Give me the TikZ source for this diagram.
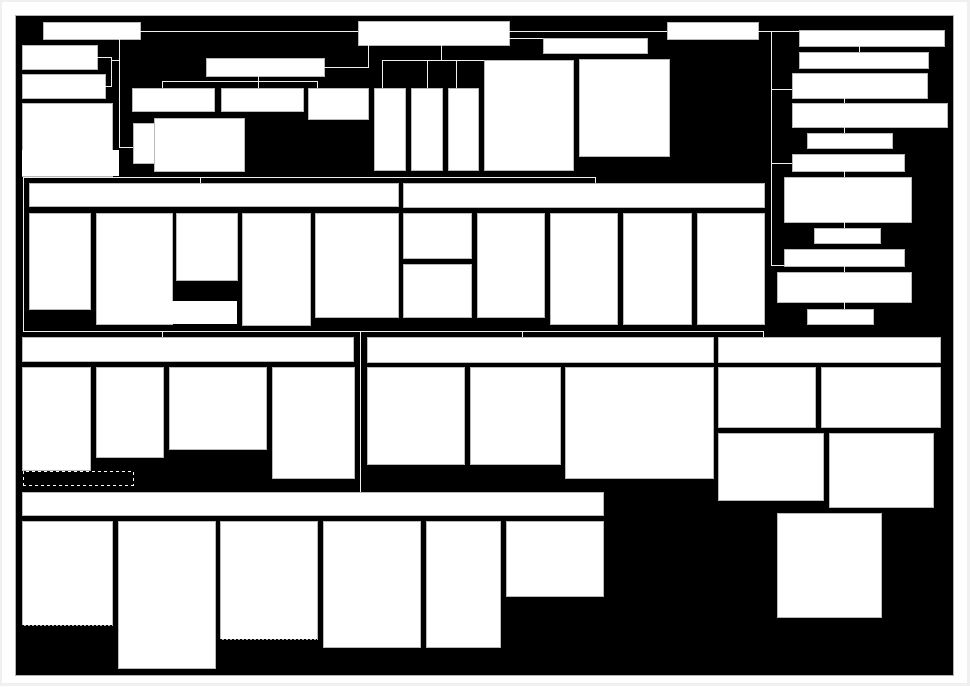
\documentclass[tikz,border=0pt]{standalone}
\usetikzlibrary{calc}
\tikzset{
  box/.style={fill=white, draw=gray!55, line width=0.5pt, inner sep=0pt, outer sep=0pt, rectangle},
  boxnb/.style={fill=white, draw=none, inner sep=0pt, outer sep=0pt, rectangle},
  conn/.style={draw=gray!12, line width=0.9pt},
  dashedge/.style={draw=black, dashed, line width=0.8pt, dash pattern=on 2pt off 2pt},
  lblbox/.style={draw=white, dashed, line width=0.6pt, fill=black, inner sep=0pt, outer sep=0pt, rectangle}
}
\newcommand{\bx}[6][box]{\node[#1, minimum width={(#5-#3)*1pt}, minimum height={(#6-#4)*1pt}] (#2) at ({(#3+#5)/2},{(#4+#6)/2}) {};}
\begin{document}
\begin{tikzpicture}[x=1pt,y=-1pt]
\useasboundingbox (0,0) rectangle (970,686);
\fill[gray!12] (0,0) rectangle (970,686);
\fill[white] (2,2) rectangle (967,683);
\fill[black] (15,15) rectangle (953,675);
\draw[gray!60, line width=0.6pt] (15,15) rectangle (953,675);

% ---------- top left ----------
\bx{A}{43}{22}{140}{39}
\bx{B}{22}{45}{97}{69}
\bx{C}{22}{74}{105}{98}
\bx{D}{22}{103}{112}{176}
\bx[boxnb]{Dx}{22}{150}{119}{176}
\bx{F}{206}{58}{324}{76}
\bx{H}{132}{88}{214}{111}
\bx{I}{221}{88}{303}{111}
\bx{J}{308}{88}{368}{119}
\bx{Ea}{133}{123}{154}{163}
\bx{E}{154}{118}{244}{171}
\bx{G}{358}{21}{509}{45}
\bx{M}{543}{38}{647}{53}
\bx{N}{374}{88}{405}{170}
\bx{O}{411}{88}{442}{170}
\bx{P}{448}{88}{478}{170}
\bx{Q}{484}{60}{573}{170}
\bx{R}{579}{59}{669}{156}
\bx{K}{667}{22}{758}{39}

% ---------- right column ----------
\bx{L}{799}{30}{944}{46}
\bx{Lb}{799}{52}{928}{68}
\bx{S}{792}{73}{927}{98}
\bx{T}{792}{103}{947}{127}
\bx{U}{807}{133}{892}{148}
\bx{V}{792}{154}{904}{171}
\bx{W}{784}{177}{911}{222}
\bx{X}{814}{228}{880}{243}
\bx{Y}{784}{249}{904}{266}
\bx{Z}{777}{272}{911}{302}
\bx{AA}{807}{309}{873}{324}

% ---------- section 1 ----------
\bx{HA}{29}{183}{398}{206}
\bx{HB}{403}{183}{764}{207}
\bx{ba}{29}{213}{90}{309}
\bx{bb}{96}{213}{172}{324}
\bx[boxnb]{bbx}{171}{301}{237}{324}
\bx{bc}{176}{213}{237}{280}
\bx{bd}{242}{213}{310}{325}
\bx{be}{315}{213}{398}{317}
\bx{ca}{403}{213}{471}{258}
\bx{cb}{403}{264}{471}{317}
\bx{cc}{477}{213}{544}{317}
\bx{cd}{550}{213}{617}{324}
\bx{ce}{623}{213}{691}{324}
\bx{cf}{697}{213}{764}{324}

% ---------- section 3 ----------
\bx{HC}{22}{337}{353}{361}
\bx{da}{22}{367}{90}{470}
\bx{db}{96}{367}{163}{457}
\bx{dc}{169}{367}{266}{449}
\bx{dd}{272}{367}{354}{478}
\bx[lblbox]{lbl}{23}{471}{133}{485}
\bx{HD}{367}{337}{713}{362}
\bx{ea}{367}{367}{464}{464}
\bx{eb}{470}{367}{560}{464}
\bx{ec}{565}{367}{713}{478}
\bx{HE}{718}{337}{940}{362}
\bx{fa}{718}{367}{815}{427}
\bx{fb}{821}{367}{940}{427}
\bx{fc}{718}{433}{823}{500}
\bx{fd}{829}{433}{933}{507}
\bx{g}{777}{513}{881}{617}

% ---------- section 4 ----------
\bx{HF}{22}{492}{603}{515}
\bx{ha}{22}{521}{112}{625}
\bx{hb}{118}{521}{215}{668}
\bx{hc}{220}{521}{317}{639}
\bx{hd}{323}{521}{420}{647}
\bx{he}{426}{521}{500}{647}
\bx{hf}{506}{521}{603}{596}
\draw[dashedge] (ha.south west) -- (ha.south east);
\draw[dashedge] (hc.south west) -- (hc.south east);

% ---------- junction coordinates ----------
\coordinate (ltr) at (119,0);
\coordinate (lbc) at (111,0);
\coordinate (rtr) at (771,0);
\coordinate (rx) at (844,0);
\coordinate (gx) at (368,0);
\coordinate (gc) at (441,0);
\coordinate (fc) at (258,0);
\coordinate (top) at (0,31);
\coordinate (gbar) at (0,60);
\coordinate (fbar) at (0,81);
\coordinate (sbar) at (0,177);
\coordinate (bbar) at (0,331);
\coordinate (fl) at (23,0);

% ---------- connectors ----------
% top line
\draw[conn] (A.east |- top) -- (G.west |- top);
\draw[conn] (G.east |- top) -- (K.west |- top);
\draw[conn] (K.east |- top) -- (L.west |- top);
\draw[conn] (G.east |- M.north) -- (M.north west);
% G -> F
\draw[conn] (gx |- G.south) -- (gx |- F.east) -- (F.east);
% G tree
\draw[conn] (gc |- G.south) -- (gc |- gbar);
\draw[conn] (N.north -| 382,0) |- (Q.north west |- gbar);
\draw[conn] (O.north -| 427,0) -- (427,60);
\draw[conn] (P.north -| 456,0) -- (456,60);
% F tree
\draw[conn] (fc |- F.south) -- (fc |- fbar);
\draw[conn] (H.north -| 162,0) |- (317,81) -- (J.north -| 317,0);
\draw[conn] (I.north -| fc) -- (fc |- fbar);
% left trunk
\draw[conn] (ltr |- A.south) -- (ltr |- 0,147) -- (Ea.west |- 0,147);
\draw[conn] (B.east) -| (lbc |- C.east) -- (C.east);
\draw[conn] (lbc |- 0,60) -- (ltr |- 0,60);
% section 1 frame and feeds
\draw[conn] (fl |- bbar) -- (fl |- sbar) -- (595,177) -- (HB.north -| 595,0);
\draw[conn] (HA.north -| 200,0) -- (200,177);
\draw[conn] (fl |- bbar) -- (763,331) -- (HE.north -| 763,0);
\draw[conn] (HC.north -| 162,0) -- (162,331);
\draw[conn] (HD.north -| 522,0) -- (522,331);
\draw[conn] (HF.north -| 360,0) -- (360,331);
% right trunk
\draw[conn] (rtr |- top) -- (rtr |- 0,265) -- (Y.west |- 0,265);
\draw[conn] (rtr |- 0,89) -- (S.west |- 0,89);
\draw[conn] (rtr |- 0,163) -- (V.west |- 0,163);
\draw[conn] (L.south -| 859,0) -- (Lb.north -| 859,0);
\draw[conn] (S.south -| rx) -- (T.north -| rx);
\draw[conn] (T.south -| rx) -- (U.north -| rx);
\draw[conn] (V.south -| rx) -- (W.north -| rx);
\draw[conn] (W.south -| rx) -- (X.north -| rx);
\draw[conn] (Y.south -| rx) -- (Z.north -| rx);
\draw[conn] (Z.south -| rx) -- (AA.north -| rx);
\end{tikzpicture}
\end{document}
